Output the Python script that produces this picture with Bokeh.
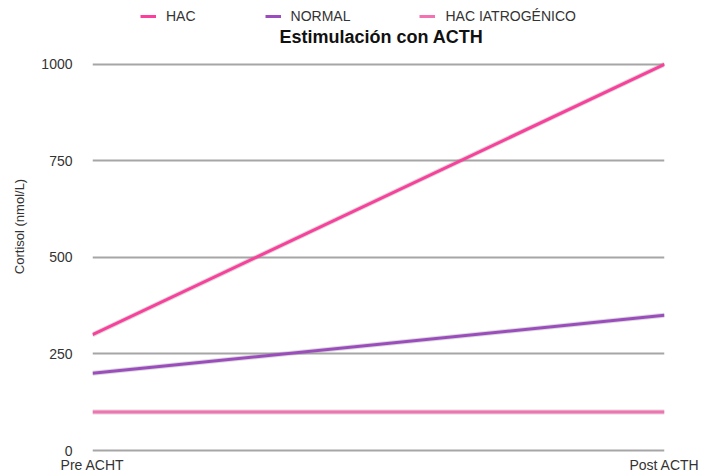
from bokeh.plotting import figure
from bokeh.models import Range1d, Legend, LegendItem, ColumnDataSource, FixedTicker, Label
from bokeh.embed import file_html
from bokeh.resources import INLINE

categories = ["Pre ACHT", "Post ACTH"]
x_pos = [0, 1]
hac = [300, 1000]
normal = [200, 350]
hac_iatro = [100, 100]
series_names = ["HAC", "NORMAL", "HAC IATROGÉNICO"]
y_ticks = [0, 250, 500, 750, 1000]
title_text = "Estimulación con ACTH"

colors = ["#fb3f9c", "#9c4dbd", "#f372b2"]
FONT = "Liberation Sans"

# frame spans the full height above the x labels; the headroom holds title and legend
p = figure(width=703, height=475, output_backend="svg", toolbar_location=None,
           x_range=Range1d(0, 1), y_range=Range1d(-5, 1165),
           min_border_left=92, min_border_right=39, min_border_top=0, min_border_bottom=23)
p.outline_line_color = None

p.xgrid.grid_line_color = None
p.ygrid.grid_line_color = "#a6a6a6"
p.ygrid.grid_line_width = 2

p.yaxis.ticker = FixedTicker(ticks=y_ticks)
p.xaxis.ticker = FixedTicker(ticks=x_pos)
p.xaxis.major_label_overrides = {x_pos[i]: categories[i] for i in range(len(categories))}
for ax in (p.xaxis, p.yaxis):
    ax.axis_line_color = None
    ax.major_tick_line_color = None
    ax.minor_tick_line_color = None
    ax.major_label_text_font = FONT
    ax.major_label_text_font_size = "14px"
    ax.major_label_text_color = "#333333"
p.yaxis.major_label_standoff = 14
p.xaxis.major_label_standoff = -2
p.yaxis.axis_label = "Cortisol (nmol/L)"
p.yaxis.axis_label_text_font = FONT
p.yaxis.axis_label_text_font_size = "13px"
p.yaxis.axis_label_text_font_style = "normal"
p.yaxis.axis_label_text_color = "#333333"
p.yaxis.axis_label_standoff = 11

items = []
for name, ys, c in zip(series_names, [hac, normal, hac_iatro], colors):
    src = ColumnDataSource(dict(x=x_pos, y=ys))
    p.line(x="x", y="y", source=src, line_color="#888888", line_alpha=0.3, line_width=5)
    r = p.line(x="x", y="y", source=src, line_color=c, line_width=3)
    items.append(LegendItem(label=name, renderers=[r]))

legend = Legend(items=items, orientation="horizontal", location=(48, 426),
                label_text_font=FONT, label_text_font_size="14px", label_text_color="#333333",
                glyph_width=16, glyph_height=20, label_standoff=10, spacing=69, padding=0, margin=0,
                border_line_color=None, background_fill_alpha=0)
p.add_layout(legend)

title = Label(x=289, y=416, x_units="screen", y_units="screen", text=title_text,
              text_align="center", text_baseline="middle", text_font=FONT,
              text_font_size="18px", text_font_style="bold", text_color="#111111")
p.add_layout(title)

open("out.html", "w").write(file_html(p, INLINE))
